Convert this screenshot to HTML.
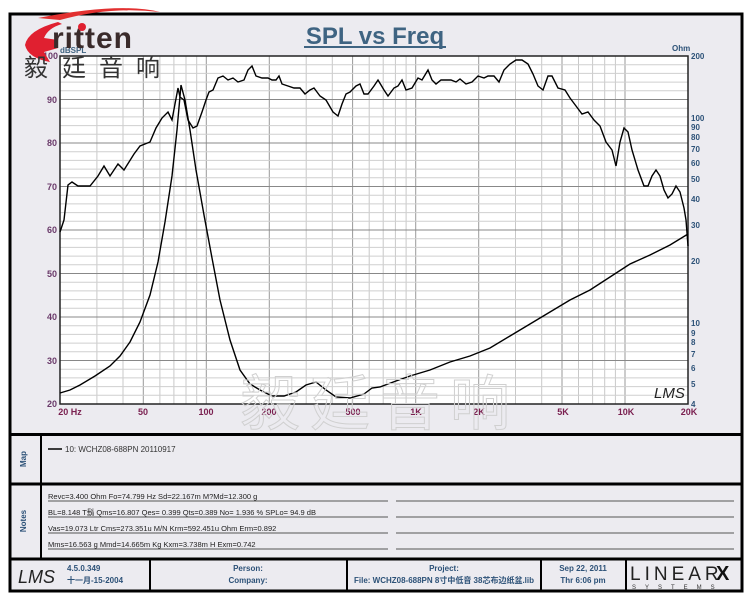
<!DOCTYPE html>
<html><head><meta charset="utf-8"><style>
body{margin:0;background:#fff;width:750px;height:600px;overflow:hidden}
svg{display:block}
text{font-family:"Liberation Sans","Noto Sans CJK SC",sans-serif}
</style></head><body>
<svg width="750" height="600" viewBox="0 0 750 600" xmlns="http://www.w3.org/2000/svg">
<rect x="10" y="14" width="732" height="577" fill="#ecebf0" stroke="#000" stroke-width="3"/>
<line x1="10" y1="434.5" x2="742" y2="434.5" stroke="#000" stroke-width="3"/>
<line x1="10" y1="484" x2="742" y2="484" stroke="#000" stroke-width="3"/>
<line x1="10" y1="559" x2="742" y2="559" stroke="#000" stroke-width="3"/>
<line x1="41" y1="434" x2="41" y2="559" stroke="#000" stroke-width="2"/>
<g stroke="#000" stroke-width="2"><line x1="150" y1="559" x2="150" y2="591"/><line x1="347" y1="559" x2="347" y2="591"/><line x1="541" y1="559" x2="541" y2="591"/><line x1="626" y1="559" x2="626" y2="591"/></g>
<text x="375" y="44" font-size="24" font-weight="bold" fill="#3f6482" text-anchor="middle">SPL vs Freq</text>
<line x1="304" y1="47" x2="446" y2="47" stroke="#3f6482" stroke-width="2"/>
<rect x="60" y="56" width="628" height="348" fill="#fff"/>
<g id="grid" stroke-width="1"></g>
<rect x="60" y="56" width="628" height="348" fill="none" stroke="#222" stroke-width="1.5"/>
<g font-size="9" font-weight="bold" fill="#6a3a6a">
<text x="58" y="59" text-anchor="end">100</text><text x="57" y="103" text-anchor="end">90</text><text x="57" y="146" text-anchor="end">80</text><text x="57" y="190" text-anchor="end">70</text><text x="57" y="233" text-anchor="end">60</text><text x="57" y="277" text-anchor="end">50</text><text x="57" y="320" text-anchor="end">40</text><text x="57" y="364" text-anchor="end">30</text><text x="57" y="407" text-anchor="end">20</text>
<text x="60" y="53" font-size="8" fill="#3f6482">dBSPL</text>
</g>
<g font-size="8" font-weight="bold" fill="#2d5278">
<text x="672" y="51">Ohm</text><text x="691" y="59">200</text><text x="691" y="121">100</text><text x="691" y="130">90</text><text x="691" y="140">80</text><text x="691" y="152">70</text><text x="691" y="166">60</text><text x="691" y="182">50</text><text x="691" y="202">40</text><text x="691" y="228">30</text><text x="691" y="264">20</text><text x="691" y="326">10</text><text x="691" y="336">9</text><text x="691" y="345">8</text><text x="691" y="357">7</text><text x="691" y="371">6</text><text x="691" y="387">5</text><text x="691" y="407">4</text>
</g>
<g font-size="9" font-weight="bold" fill="#7a2050" text-anchor="middle">
<text x="70" y="415">20 Hz</text><text x="143" y="415">50</text><text x="206" y="415">100</text><text x="269" y="415">200</text><text x="353" y="415">500</text><text x="416" y="415">1K</text><text x="479" y="415">2K</text><text x="563" y="415">5K</text><text x="626" y="415">10K</text><text x="689" y="415">20K</text>
</g>
<polyline fill="none" stroke="#000" stroke-width="1.4" points="60,232 64,220 68,185 72,182 78,186 90,186 98,176 104,166 110,176 118,164 124,170 134,154 140,146 150,142 156,128 162,118 168,112 172,120 178,88 180,97 184,100 188,120 193,128 197,126 202,112 206,100 209,92 213,90 218,78 223,76 228,80 233,78 238,82 244,80 248,70 252,66 256,76 262,78 268,78 272,80 276,80 279,76 282,84 288,86 294,88 300,88 305,94 310,90 314,88 320,96 326,100 333,112 338,116 342,104 346,94 350,92 356,86 360,84 364,94 368,94 374,86 378,80 384,90 388,96 394,88 398,86 402,80 406,90 412,88 418,78 422,80 428,70 432,80 436,84 441,80 446,80 451,80 456,82 460,79 466,84 472,82 478,76 484,78 488,76 494,76 499,82 504,70 510,64 516,60 522,60 528,64 533,74 538,86 543,90 548,76 552,76 558,88 565,90 570,98 576,106 582,114 588,112 594,120 600,126 606,142 612,150 616,166 620,142 624,128 628,132 632,150 638,170 644,186 648,186 652,176 656,170 660,176 664,190 668,198 672,194 676,186 680,192 684,208 686,220 688,246"/>
<polyline fill="none" stroke="#000" stroke-width="1.4" points="60,393 70,390 80,385 95,376 110,366 120,356 130,342 140,322 150,295 158,262 165,222 172,176 177,130 181,85 185,100 190,130 196,170 204,215 212,258 220,300 230,340 240,370 250,384 260,390 272,396 284,396 296,392 306,385 316,382 326,390 336,397 350,398 364,394 372,388 380,387 396,381 410,376 430,370 450,362 470,356 490,348 510,336 530,324 550,312 570,300 590,290 610,277 630,264 650,255 670,245 688,234"/>
<text x="654" y="398" font-size="15" font-style="italic" fill="#222" font-family="Liberation Serif,serif">LMS</text>
<text x="380" y="425" font-size="60" fill="none" stroke="#d0d0d0" stroke-width="1" text-anchor="middle" font-family="'Noto Serif CJK SC',serif" letter-spacing="10">毅廷音响</text>
<!-- logo (on top) -->
<path d="M38 18 Q120 2 160 12 Q110 6 60 20 Z" fill="#e23030"/>
<path d="M58 22 Q28 30 25 45 Q28 58 50 62 L44 52 L58 48 L58 40 L44 38 Q48 28 62 24 Z" fill="#e02030"/>
<text x="52" y="48" font-size="30" font-weight="bold" fill="#3a2b2b" letter-spacing="1">ritten</text>
<circle cx="82" cy="27" r="4" fill="#e02030"/>
<g font-size="24" fill="#333" font-family="'Noto Sans CJK SC',sans-serif">
<text x="24" y="76">毅</text><text x="62" y="76">廷</text><text x="99" y="76">音</text><text x="136" y="76">响</text>
</g>
<!-- map -->
<text x="26" y="459" font-size="8" font-weight="bold" fill="#2d5278" transform="rotate(-90 26 459)" text-anchor="middle">Map</text>
<line x1="48" y1="449" x2="62" y2="449" stroke="#000" stroke-width="1.5"/>
<text x="65" y="452" font-size="8" fill="#333">10: WCHZ08-688PN 20110917</text>
<!-- notes -->
<text x="26" y="521" font-size="8" font-weight="bold" fill="#2d5278" transform="rotate(-90 26 521)" text-anchor="middle">Notes</text>
<g font-size="7.5" fill="#222">
<text x="48" y="499">Revc=3.400 Ohm  Fo=74.799 Hz  Sd=22.167m M?Md=12.300 g</text>
<text x="48" y="515">BL=8.148 T鬍  Qms=16.807  Qes= 0.399  Qts=0.389  No= 1.936 %  SPLo= 94.9 dB</text>
<text x="48" y="531">Vas=19.073 Ltr  Cms=273.351u M/N  Krm=592.451u Ohm  Erm=0.892</text>
<text x="48" y="547">Mms=16.563 g  Mmd=14.665m Kg  Kxm=3.738m H  Exm=0.742</text>
</g>
<g stroke="#555" stroke-width="1">
<line x1="48" y1="501" x2="388" y2="501"/><line x1="396" y1="501" x2="734" y2="501"/>
<line x1="48" y1="517" x2="388" y2="517"/><line x1="396" y1="517" x2="734" y2="517"/>
<line x1="48" y1="533" x2="388" y2="533"/><line x1="396" y1="533" x2="734" y2="533"/>
<line x1="48" y1="549" x2="388" y2="549"/><line x1="396" y1="549" x2="734" y2="549"/>
</g>
<!-- footer -->
<text x="18" y="583" font-size="18" font-style="italic" fill="#222" font-family="Liberation Serif,serif">LMS</text>
<g font-size="8" font-weight="bold" fill="#2d5278">
<text x="67" y="571">4.5.0.349</text><text x="67" y="583">十一月-15-2004</text>
<text x="248" y="571" text-anchor="middle">Person:</text><text x="248" y="583" text-anchor="middle">Company:</text>
<text x="444" y="571" text-anchor="middle">Project:</text><text x="444" y="583" text-anchor="middle">File: WCHZ08-688PN  8寸中低音 38芯布边纸盆.lib</text>
<text x="583" y="571" text-anchor="middle">Sep 22, 2011</text><text x="583" y="583" text-anchor="middle">Thr  6:06 pm</text>
</g>
<text x="630" y="580" font-size="19" fill="#222" font-family="Liberation Serif,serif" letter-spacing="4">LINEAR</text><text x="716" y="580" font-size="20" font-weight="bold" fill="#111">X</text>
<text x="632" y="589" font-size="6" fill="#333" letter-spacing="9">SYSTEMS</text>
</svg>
<script>
var g=document.getElementById('grid'),s='';
function X(f){return 60+628*Math.log10(f/20)/3;}
var fs=[];for(var d=10;d<=10000;d*=10)for(var k=1;k<10;k++){var f=k*d;if(f>20&&f<20000)fs.push(f);}
fs.forEach(function(f){var x=X(f).toFixed(1);var m=/^[125]/.test(String(f));s+='<line x1="'+x+'" y1="56" x2="'+x+'" y2="404" stroke="'+(m?'#999':'#c8c8c8')+'"/>';});
for(var db=22;db<100;db+=2){var y=(404-(db-20)*4.35).toFixed(1);s+='<line x1="60" y1="'+y+'" x2="688" y2="'+y+'" stroke="'+(db%10==0?'#888':'#cfcfcf')+'"/>';}
g.innerHTML=s;
</script>
</body></html>
